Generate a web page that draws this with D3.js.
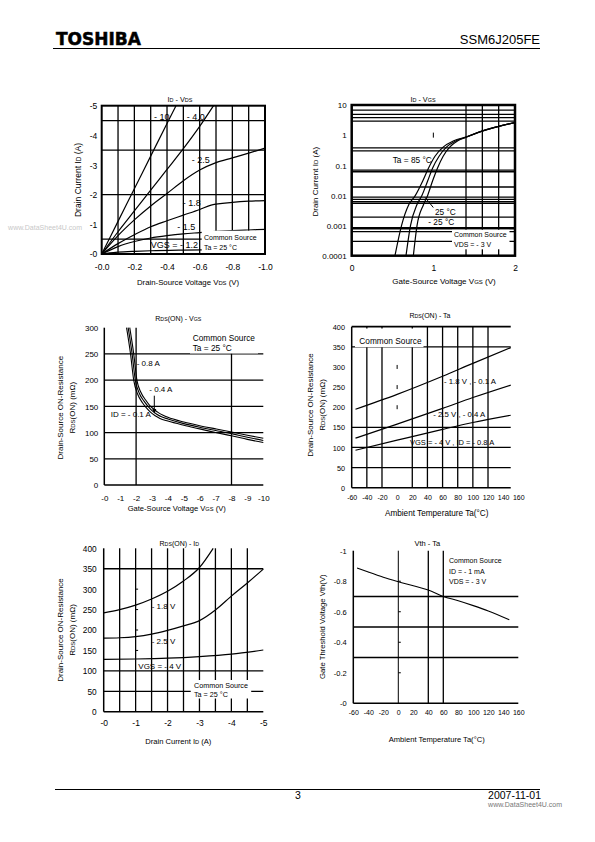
<!DOCTYPE html>
<html><head><meta charset="utf-8">
<script src="https://cdn.jsdelivr.net/npm/d3@7"></script>
<style>
body{margin:0;background:#fff}
svg{display:block}
text{font-family:"Liberation Sans",Arial,Helvetica,sans-serif;fill:#000}
</style>
</head><body>
<svg id="page" width="595" height="842"></svg>
<script>
// ================= DATA =================
// Chart 1: ID - VDS  (pairs [VDS (V), ID (A)])
const c1Vgs10  = [[0,0],[-0.1,-1.1],[-0.2,-2.2],[-0.3,-3.3],[-0.4,-4.4],[-0.455,-5]];
const c1Vgs40  = [[0,0],[-0.1,-0.75],[-0.2,-1.45],[-0.3,-2.15],[-0.4,-2.85],[-0.5,-3.55],[-0.6,-4.3],[-0.685,-5]];
const c1Vgs25  = [[0,0],[-0.1,-0.62],[-0.2,-1.15],[-0.3,-1.62],[-0.4,-2.04],[-0.5,-2.47],[-0.6,-2.83],[-0.7,-3.08],[-0.8,-3.24],[-0.9,-3.4],[-1.0,-3.57]];
const c1Vgs18  = [[0,0],[-0.1,-0.35],[-0.2,-0.65],[-0.3,-0.92],[-0.4,-1.12],[-0.5,-1.31],[-0.6,-1.5],[-0.67,-1.65],[-0.8,-1.74],[-0.9,-1.78],[-1.0,-1.8]];
const c1Vgs15  = [[0,0],[-0.1,-0.25],[-0.2,-0.42],[-0.3,-0.54],[-0.4,-0.62],[-0.5,-0.68],[-0.6,-0.72],[-0.7,-0.76],[-0.8,-0.79],[-0.9,-0.81],[-1.0,-0.83]];
const c1Vgs12  = [[0,0],[-0.05,-0.035],[-0.1,-0.06],[-0.2,-0.09],[-0.3,-0.11],[-0.5,-0.13],[-0.7,-0.14],[-1.0,-0.15]];
const c1XTicks = [0,-0.2,-0.4,-0.6,-0.8,-1.0];
const c1XLabels = ["-0.0","-0.2","-0.4","-0.6","-0.8","-1.0"];
const c1YTicks = [0,-1,-2,-3,-4,-5];
const c1YLabels = ["-0","-1","-2","-3","-4","-5"];
const c1GridX = [-0.1,-0.2,-0.3,-0.4,-0.5,-0.6,-0.7,-0.8,-0.9];
const c1GridY = [-0.5,-2,-3.5,-4.5];

// Chart 2: ID - VGS  (pairs [VGS (V), ID (A)], log ID)
const c2Ta85  = [[0.53,0.0001],[0.61,0.001],[0.70,0.005],[0.78,0.01],[0.87,0.03],[0.94,0.08],[1.02,0.2],[1.12,0.4],[1.25,0.65],[1.4,0.87],[1.6,1.38],[1.8,1.95],[2.0,2.6]];
const c2Ta25  = [[0.665,0.0001],[0.72,0.001],[0.80,0.005],[0.86,0.01],[0.93,0.03],[0.99,0.08],[1.07,0.2],[1.16,0.4],[1.28,0.65],[1.4,0.86],[1.6,1.37],[1.8,1.95],[2.0,2.6]];
const c2TaM25 = [[0.755,0.0001],[0.80,0.001],[0.88,0.005],[0.93,0.01],[0.99,0.03],[1.05,0.08],[1.12,0.2],[1.2,0.4],[1.3,0.65],[1.4,0.85],[1.6,1.36],[1.8,1.95],[2.0,2.6]];
const c2XTicks = [0,1,2];
const c2XLabels = ["0","1","2"];
const c2YTicks = [10,1,0.1,0.01,0.001,0.0001];
const c2YLabels = ["10","1","0.1","0.01","0.001","0.0001"];
const c2GridY = [6.8,4.9,3.8,2.9,0.38,0.3,0.069,0.061,0.019,0.0088,0.0074,0.0062,0.0055,0.0019,0.00063,0.0003];
const c2GridYThick = [0.00081];
const c2GridX = [1.4,1.6,1.8];

// Chart 3: RDS(ON) - VGS  (pairs [VGS (V), RDS (mΩ)])
const c3Id08 = [[-1.6,300],[-1.85,250],[-2.05,200],[-2.3,177],[-2.6,162],[-2.85,152],[-3.1,145],[-3.4,138],[-3.7,133],[-4,129],[-5,120],[-6,113],[-7,107],[-8,101],[-9,95],[-10,89]];
const c3Id04 = [[-1.5,300],[-1.75,250],[-1.95,200],[-2.2,175],[-2.5,160],[-2.75,150],[-3.0,142],[-3.3,135],[-3.6,130],[-4,126],[-5,117],[-6,110],[-7,104],[-8,98],[-9,91],[-10,85]];
const c3Id01 = [[-1.4,300],[-1.65,250],[-1.85,200],[-2.1,173],[-2.4,157],[-2.65,147],[-2.9,139],[-3.2,132],[-3.5,127],[-4,122],[-5,114],[-6,107],[-7,100],[-8,94],[-9,87],[-10,81]];
const c3XTicks = [0,-1,-2,-3,-4,-5,-6,-7,-8,-9,-10];
const c3XLabels = ["-0","-1","-2","-3","-4","-5","-6","-7","-8","-9","-10"];
const c3YTicks = [0,50,100,150,200,250,300];
const c3YLabels = ["0","50","100","150","200","250","300"];
const c3GridY = [50,100,150,200,250];
const c3GridX = [-2,-8];

// Chart 4: RDS(ON) - Ta  (pairs [Ta (°C), RDS (mΩ)])
const c4Vgs18 = [[-55,195],[0,232],[60,277],[100,309],[150,348]];
const c4Vgs25 = [[-55,123],[0,158],[60,197],[100,224],[150,255]];
const c4Vgs4  = [[-55,93],[0,118],[60,145],[100,162],[150,180]];
const c4XTicks = [-60,-40,-20,0,20,40,60,80,100,120,140,160];
const c4XLabels = ["-60","-40","-20","0","20","40","60","80","100","120","140","160"];
const c4YTicks = [0,50,100,150,200,250,300,350,400];
const c4YLabels = ["0","50","100","150","200","250","300","350","400"];
const c4GridY = [50,100,150,350];
const c4GridX = [-40,-20,20,40,60,80,100,120];
const c4MinorY = [200,250,300];

// Chart 5: RDS(ON) - ID  (pairs [ID (A), RDS (mΩ)])
const c5Vgs18 = [[0,242],[-0.5,250],[-1,261],[-1.5,276],[-2,295],[-2.5,320],[-3,353],[-3.43,400]];
const c5Vgs25 = [[0,180],[-0.5,181],[-1,184],[-1.5,190],[-2,199],[-2.5,210],[-3,223],[-3.5,249],[-4,283],[-4.5,315],[-5,349]];
const c5Vgs4  = [[0,128],[-1,129],[-2,131],[-3,135],[-4,141],[-5,151]];
const c5XTicks = [0,-1,-2,-3,-4,-5];
const c5XLabels = ["-0","-1","-2","-3","-4","-5"];
const c5YTicks = [0,50,100,150,200,250,300,350,400];
const c5YLabels = ["0","50","100","150","200","250","300","350","400"];
const c5GridY = [50,100,350];
const c5GridX = [-0.5,-1,-1.5,-2,-2.5,-3,-3.5,-4,-4.5];
const c5MinorY = [150,200,250,300];

// Chart 6: Vth - Ta  (pairs [Ta (°C), Vth (V)])
const c6Vth = [[-55,-0.887],[-40,-0.86],[-20,-0.826],[0,-0.797],[20,-0.77],[40,-0.742],[60,-0.7],[80,-0.672],[100,-0.64],[120,-0.605],[148,-0.547]];
const c6XTicks = [-60,-40,-20,0,20,40,60,80,100,120,140,160];
const c6XLabels = ["-60","-40","-20","0","20","40","60","80","100","120","140","160"];
const c6YTicks = [0,-0.2,-0.4,-0.6,-0.8,-1];
const c6YLabels = ["-0","-0.2","-0.4","-0.6","-0.8","-1"];
const c6GridY = [-0.3,-0.5,-0.7];
const c6GridX = [40,60];
const c6MinorY = [-0.2,-0.4,-0.6,-0.8];

// ================= HELPERS =================
const svg = d3.select("#page");
const FONT = '"Liberation Sans", Arial, Helvetica, sans-serif';

function ln(g,x1,y1,x2,y2,w){
  return g.append("line").attr("x1",x1).attr("y1",y1).attr("x2",x2).attr("y2",y2)
    .attr("stroke","#000").attr("stroke-width",w);
}
function fillParts(t, parts){
  if (typeof parts === "string") { t.text(parts); return t; }
  parts.forEach(p => {
    const s = t.append("tspan").text(p[0]);
    if (p[1]) s.attr("font-size", "0.75em");
  });
  return t;
}
function txt(g,x,y,parts,fs,anchor){
  const t = g.append("text").attr("x",x).attr("y",y).attr("font-size",fs)
    .attr("text-anchor",anchor||"start");
  return fillParts(t,parts);
}
function vtxt(g,cx,cy,parts,fs){
  const t = g.append("text").attr("transform",`translate(${cx},${cy}) rotate(-90)`)
    .attr("text-anchor","middle").attr("dy","0.35em").attr("font-size",fs);
  return fillParts(t,parts);
}
function xAxis(g, scale, vals, labels, yc, fs){
  const m = new Map(vals.map((v,i)=>[v,labels[i]]));
  const a = g.append("g").attr("transform",`translate(0,${yc})`)
    .call(d3.axisBottom(scale).tickValues(vals).tickFormat(d=>m.get(d)).tickSize(0).tickPadding(0));
  a.select(".domain").remove();
  a.selectAll("text").attr("dy","0.35em").attr("font-size",fs).attr("font-family",FONT).attr("fill","#000");
}
function yAxis(g, scale, vals, labels, xr, fs){
  const m = new Map(vals.map((v,i)=>[v,labels[i]]));
  const a = g.append("g").attr("transform",`translate(${xr},0)`)
    .call(d3.axisLeft(scale).tickValues(vals).tickFormat(d=>m.get(d)).tickSize(0).tickPadding(0));
  a.select(".domain").remove();
  a.selectAll("text").attr("dy","0.35em").attr("font-size",fs).attr("font-family",FONT).attr("fill","#000");
}
function curve(g, x, y, data, w){
  const gen = d3.line().x(d=>x(d[0])).y(d=>y(d[1])).curve(d3.curveMonotoneX);
  g.append("path").attr("d",gen(data)).attr("fill","none").attr("stroke","#000")
    .attr("stroke-width",w||1.2).attr("stroke-linejoin","round");
}
function wbox(g,x,y,w,h){
  g.append("rect").attr("x",x).attr("y",y).attr("width",w).attr("height",h).attr("fill","#fff");
}

// ================= HEADER / FOOTER =================
svg.append("text").attr("x",56).attr("y",44.5)
  .attr("font-weight","bold").attr("font-size",17).attr("stroke","#000").attr("stroke-width",0.5)
  .style("font-family","'DejaVu Sans'").text("TOSHIBA");
svg.append("text").attr("x",540).attr("y",44).attr("text-anchor","end").attr("font-size",13).text("SSM6J205FE");
ln(svg,53,48.5,540,48.5,1.2);

ln(svg,55,789.5,540,789.5,1);
svg.append("text").attr("x",298).attr("y",798.5).attr("text-anchor","middle").attr("font-size",10.5).text("3");
svg.append("text").attr("x",541).attr("y",798.5).attr("text-anchor","end").attr("font-size",10.5).text("2007-11-01");
svg.append("text").attr("x",562).attr("y",806.5).attr("text-anchor","end").attr("font-size",7).style("fill","#777").text("www.DataSheet4U.com");

// watermark left of chart 1
svg.append("text").attr("x",82).attr("y",229.5).attr("text-anchor","end").attr("font-size",7).style("fill","#c8c8c8").text("www.DataSheet4U.com");

// ================= CHART 1 =================
{
  const g = svg.append("g");
  const x = d3.scaleLinear([0,-1],[101.7,265]);
  const y = d3.scaleLinear([0,-5],[254,105.7]);
  c1GridX.forEach(v=>ln(g,x(v),y(0),x(v),y(-5),1.3));
  c1GridY.forEach(v=>ln(g,x(0),y(v),x(-1),y(v),1.3));
  [c1Vgs10,c1Vgs40,c1Vgs25,c1Vgs18,c1Vgs15,c1Vgs12].forEach(d=>curve(g,x,y,d,1.2));
  wbox(g,201.7,230.7,62.5,22.5);
  txt(g,204,239.5,"Common Source",7);
  txt(g,204,249.5,"Ta = 25 °C",7);
  txt(g,154,119.5,"- 10",9);
  txt(g,186.7,119.5,"- 4.0",9);
  txt(g,191.7,163,"- 2.5",9);
  txt(g,182.7,206,"- 1.8",9);
  txt(g,177.3,230,"- 1.5",9);
  txt(g,150.7,248,"VGS = - 1.2",9);
  g.append("rect").attr("x",x(0)).attr("y",y(-5)).attr("width",x(-1)-x(0)).attr("height",y(0)-y(-5))
    .attr("fill","none").attr("stroke","#000").attr("stroke-width",2);
  yAxis(g,y,c1YTicks,c1YLabels,97.3,8.5);
  xAxis(g,x,c1XTicks,c1XLabels,266.7,8.5);
  txt(g,180,101.5,[["I"],["D",1],[" - V"],["DS",1]],7.3,"middle");
  txt(g,188,285,[["Drain-Source Voltage V"],["DS",1],[" (V)"]],7.8,"middle");
  vtxt(g,78.3,180,[["Drain Current I"],["D",1],[" (A)"]],8.5);
}

// ================= CHART 2 =================
{
  const g = svg.append("g");
  const x = d3.scaleLinear([0,2],[351.7,515]);
  const y = d3.scaleLog([0.0001,10],[255.7,105]);
  c2GridY.forEach(v=>ln(g,x(0),y(v),x(2),y(v),1.3));
  c2GridYThick.forEach(v=>ln(g,x(0),y(v),x(2),y(v),2.4));
  c2GridX.forEach(v=>ln(g,x(v),y(10),x(v),y(0.0001),1.3));
  ln(g,x(1),y(1)-2.5,x(1),y(1)+2.5,1);
  [c2Ta85,c2Ta25,c2TaM25].forEach(d=>curve(g,x,y,d,1.2));
  wbox(g,452,229.8,57.5,19.5);
  txt(g,454,237,"Common Source",7);
  txt(g,454,247,"VDS = - 3 V",7);
  txt(g,392.7,163,"Ta = 85 °C",8.3);
  ln(g,425,197.3,433.3,207.5,1);
  txt(g,435,214.5,"25 °C",8.3);
  txt(g,428.3,225,"- 25 °C",8.3);
  g.append("rect").attr("x",x(0)).attr("y",y(10)).attr("width",x(2)-x(0)).attr("height",y(0.0001)-y(10))
    .attr("fill","none").attr("stroke","#000").attr("stroke-width",2.5);
  yAxis(g,y,c2YTicks,c2YLabels,346.7,8);
  xAxis(g,x,c2XTicks,c2XLabels,268.3,8.5);
  txt(g,423,101.5,[["I"],["D",1],[" - V"],["GS",1]],7.3,"middle");
  txt(g,444,284,[["Gate-Source Voltage V"],["GS",1],[" (V)"]],8,"middle");
  vtxt(g,315,181.7,[["Drain Current I"],["D",1],[" (A)"]],8);
}

// ================= CHART 3 =================
{
  const g = svg.append("g");
  const x = d3.scaleLinear([0,-10],[104.3,263.3]);
  const y = d3.scaleLinear([0,300],[485,327.7]);
  c3GridY.forEach(v=>ln(g,x(0),y(v),x(-10),y(v),1.3));
  c3GridX.forEach(v=>ln(g,x(v),y(0),x(v),y(300),1.3));
  [c3Id08,c3Id04,c3Id01].forEach(d=>curve(g,x,y,d,1.1));
  ln(g,x(0),y(0),x(0),y(300),1.5);
  ln(g,x(0),y(0),x(-10),y(0),1.5);
  wbox(g,190,326,68,27.5);
  txt(g,192.7,340.5,"Common Source",8.3);
  txt(g,192.7,351,"Ta = 25 °C",8.3);
  txt(g,136.7,366,"- 0.8 A",8);
  txt(g,149.3,392,"- 0.4 A",8);
  ln(g,154.3,395.7,154.3,410,1);
  g.append("path").attr("d","M152.3,409 L154.3,413.8 L156.3,409 Z").attr("fill","#000");
  txt(g,110.7,416.5,"ID = - 0.1 A",8);
  yAxis(g,y,c3YTicks,c3YLabels,98.3,8);
  xAxis(g,x,c3XTicks,c3XLabels,497.7,8);
  txt(g,178.3,320.5,[["R"],["DS",1],["(ON) - V"],["GS",1]],7,"middle");
  txt(g,176.7,510.5,[["Gate-Source Voltage V"],["GS",1],[" (V)"]],7.6,"middle");
  vtxt(g,60,407.7,"Drain-Source ON-Resistance",8);
  vtxt(g,71.7,407.7,[["R"],["DS",1],["(ON) (mΩ)"]],8);
}

// ================= CHART 4 =================
{
  const g = svg.append("g");
  const x = d3.scaleLinear([-60,160],[351.7,518.3]);
  const y = d3.scaleLinear([0,400],[487.7,326.7]);
  c4GridY.forEach(v=>ln(g,x(-60),y(v),x(150),y(v),1.3));
  c4GridX.forEach(v=>ln(g,x(v),y(0),x(v),y(400),1.3));
  c4MinorY.forEach(v=>ln(g,x(0),y(v)-2,x(0),y(v)+2,1));
  [c4Vgs18,c4Vgs25,c4Vgs4].forEach(d=>curve(g,x,y,d,1.2));
  wbox(g,355,328.5,68.5,18.7);
  txt(g,359.3,344,"Common Source",8.3);
  ln(g,x(-60),y(400),x(150),y(400),1.8);
  ln(g,x(-60),y(0),x(-60),y(400),1.5);
  ln(g,x(-60),y(0),x(150),y(0),1.5);
  txt(g,444,384,"- 1.8 V , - 0.1 A",7.8);
  txt(g,433.3,417,"- 2.5 V , - 0.4 A",7.8);
  txt(g,410,444.5,"VGS = - 4 V , ID = - 0.8 A",7.5);
  yAxis(g,y,c4YTicks,c4YLabels,345,7.3);
  xAxis(g,x,c4XTicks,c4XLabels,497.7,7);
  txt(g,430,317.5,[["R"],["DS",1],["(ON) - Ta"]],7,"middle");
  txt(g,436.7,516,"Ambient Temperature Ta(°C)",8.2,"middle");
  vtxt(g,310,405,"Drain-Source ON-Resistance",8);
  vtxt(g,321.7,405,[["R"],["DS",1],["(ON) (mΩ)"]],8);
}

// ================= CHART 5 =================
{
  const g = svg.append("g");
  const x = d3.scaleLinear([0,-5],[103.7,263.3]);
  const y = d3.scaleLinear([0,400],[711.7,548.3]);
  c5GridY.forEach(v=>ln(g,x(0),y(v),x(-5),y(v),1.3));
  c5GridX.forEach(v=>ln(g,x(v),y(0),x(v),y(400),1.3));
  c5MinorY.forEach(v=>ln(g,x(-1),y(v),x(-1)+2.5,y(v),1));
  [c5Vgs18,c5Vgs25,c5Vgs4].forEach(d=>curve(g,x,y,d,1.2));
  wbox(g,190.7,680,60.5,18.5);
  txt(g,194,687.7,"Common Source",7.2);
  txt(g,194,697,"Ta = 25 °C",7.2);
  ln(g,x(0),y(0),x(0),y(400),1.5);
  ln(g,x(0),y(0),x(-5),y(0),1.5);
  txt(g,151.7,609,"- 1.8 V",8);
  txt(g,151.7,644,"- 2.5 V",8);
  txt(g,138.3,669,"VGS = - 4 V",8);
  yAxis(g,y,c5YTicks,c5YLabels,96.7,8.3);
  xAxis(g,x,c5XTicks,c5XLabels,723.3,8.5);
  txt(g,179.3,545.8,[["R"],["DS",1],["(ON) - I"],["D",1]],7,"middle");
  txt(g,178.3,743.5,[["Drain Current I"],["D",1],[" (A)"]],7.6,"middle");
  vtxt(g,60,630,"Drain-Source ON-Resistance",8);
  vtxt(g,71.7,630,[["R"],["DS",1],["(ON) (mΩ)"]],8);
}

// ================= CHART 6 =================
{
  const g = svg.append("g");
  const x = d3.scaleLinear([-60,160],[353.3,518.3]);
  const y = d3.scaleLinear([0,-1],[703.3,550.7]);
  c6GridY.forEach(v=>ln(g,x(-60),y(v),x(160),y(v),1.3));
  c6GridX.forEach(v=>ln(g,x(v),y(0),x(v),y(-1),1.3));
  ln(g,x(0),y(0),x(0),y(-1),1);
  c6MinorY.forEach(v=>ln(g,x(0),y(v),x(0)+2.5,y(v),1));
  curve(g,x,y,c6Vth,1.1);
  ln(g,x(-60),y(0),x(-60),y(-1),1.5);
  ln(g,x(-60),y(0),x(160),y(0),1.5);
  txt(g,449,563.3,"Common Source",7);
  txt(g,449,573.6,"ID = - 1 mA",7);
  txt(g,449,584.3,"VDS = - 3 V",7);
  yAxis(g,y,c6YTicks,c6YLabels,346.7,7.5);
  xAxis(g,x,c6XTicks,c6XLabels,712.7,7);
  txt(g,427.3,546,"Vth - Ta",7.5,"middle");
  txt(g,436.7,742,"Ambient Temperature Ta(°C)",7.6,"middle");
  vtxt(g,322.7,626.7,"Gate Threshold Voltage Vth(V)",7.7);
}
</script>
</body></html>
